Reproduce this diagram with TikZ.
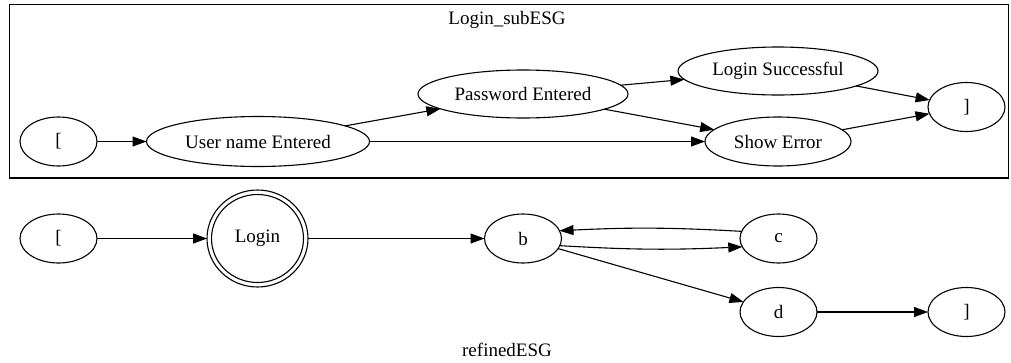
\documentclass[tikz,border=0pt]{standalone}
\usepackage{fontspec}
\setmainfont{Liberation Serif}
\usetikzlibrary{shapes.geometric,arrows.meta}
\begin{document}
\begin{tikzpicture}[x=1pt,y=-1pt,
  font=\fontsize{19}{23}\selectfont,
  line width=1.1pt,
  state/.style={ellipse,draw,inner sep=0pt,outer sep=0pt},
  small/.style={state,minimum width=77pt,minimum height=49pt},
  edge/.style={-{Triangle[length=14pt,width=10pt]}}]
\useasboundingbox (0,0) rectangle (1011,362);

% cluster frame and title
\draw[line width=1.2pt] (9.5,4.5) rectangle (1008.5,178);
\node (subtitle) at (507,20) {Login\_subESG};

% sub graph states
\node[small] (s0) at (58.5,141.5) {[};
\node[state,minimum width=223pt,minimum height=50pt] (user) at (258,141.5) {User name Entered};
\node[state,minimum width=210pt,minimum height=48pt] (pass) at (523,94) {Password Entered};
\node[state,minimum width=200pt,minimum height=48pt] (succ) at (778,71) {Login Successful};
\node[state,minimum width=146pt,minimum height=49pt] (err) at (778,141.5) {Show Error};
\node[small] (s1) at (966.5,107) {]};

\draw[edge] (s0) -- (user);
\draw[edge] (user) -- (pass);
\draw[edge] (user) -- (err);
\draw[edge] (pass) -- (succ);
\draw[edge] (pass) -- (err);
\draw[edge] (succ) -- (s1);
\draw[edge] (err) -- (s1);

% refined graph states
\node[small] (r0) at (58.5,238.5) {[};
\node[state,minimum width=101pt,minimum height=97pt] (login) at (257.5,238.5) {Login};
\node[state,minimum width=92pt,minimum height=88pt] (logininner) at (login) {};
\node[small] (b) at (523,238.5) {b};
\node[small] (c) at (778.5,238.5) {c};
\node[small] (d) at (778.5,312) {d};
\node[small] (r1) at (966.5,312) {]};

\draw[edge] (r0) -- (login);
\draw[edge] (login) -- (b);
\draw[edge] (b.-11) to[bend right=3] (c.-167);
\draw[edge] (c.169) to[bend right=3] (b.12);
\draw[edge] (b) -- (d);
\draw[edge] (d) -- (r1);

\node (reftitle) at (507,350) {refinedESG};
\end{tikzpicture}
\end{document}
